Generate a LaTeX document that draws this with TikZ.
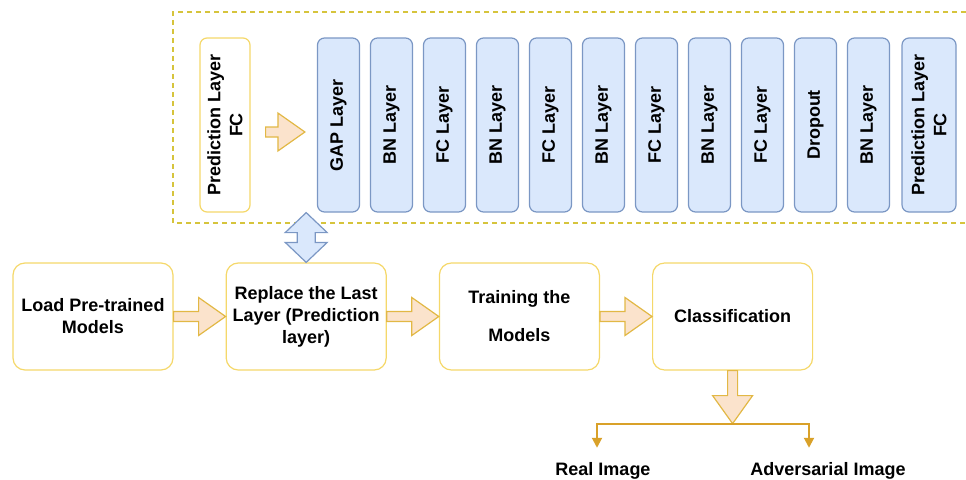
\documentclass[tikz,border=0pt]{standalone}
\usepackage{fontspec}
\setmainfont{Liberation Sans}
\usetikzlibrary{arrows.meta,calc,positioning}
\definecolor{boxyellow}{HTML}{F5D86A}
\definecolor{framecol}{HTML}{D6C43C}
\definecolor{layerline}{HTML}{7B97C4}
\definecolor{layerfill}{HTML}{DAE8FC}
\definecolor{arrowline}{HTML}{E2B845}
\definecolor{arrowfill}{HTML}{FBE3CC}
\definecolor{branchcol}{HTML}{D9A129}
\tikzset{
  txt/.style={font=\fontsize{18}{22}\selectfont\bfseries},
  stage/.style={txt,draw=boxyellow,line width=1.2pt,rounded corners=12pt,fill=white,
    minimum width=160pt,minimum height=107pt,align=center,inner sep=2pt},
  layer/.style={txt,draw=layerline,fill=layerfill,line width=1.2pt,rounded corners=7pt,
    rotate=90,minimum width=174pt,minimum height=42pt,align=center,inner sep=0pt},
  oldlayer/.style={layer,draw=boxyellow,fill=white,minimum height=50pt},
  blockarrow/.style={draw=arrowline,fill=arrowfill,line width=1.2pt},
  duoarrow/.style={draw=layerline,fill=layerfill,line width=1.2pt},
  frame/.style={draw=framecol,line width=1.2pt,dash pattern=on 5pt off 4pt},
  branch/.style={draw=branchcol,line width=2pt,-{Triangle[width=10pt,length=10pt]}},
  outlbl/.style={txt,inner sep=0pt}
}
% block arrow pointing right, #1 tail, #2 tip
\newcommand{\harrow}[2]{%
  \draw[blockarrow] let \p1=(#1), \p2=(#2) in
    (\x1,\y1+5pt) -- (\x2-27pt,\y1+5pt) -- (\x2-27pt,\y1+19pt) -- (\x2,\y1)
    -- (\x2-27pt,\y1-19pt) -- (\x2-27pt,\y1-5pt) -- (\x1,\y1-5pt) -- cycle;}
% block arrow pointing down
\newcommand{\varrow}[2]{%
  \draw[blockarrow] let \p1=(#1), \p2=(#2) in
    (\x1-5pt,\y1) -- (\x1-5pt,\y2+28pt) -- (\x1-20pt,\y2+28pt) -- (\x1,\y2)
    -- (\x1+20pt,\y2+28pt) -- (\x1+5pt,\y2+28pt) -- (\x1+5pt,\y1) -- cycle;}

\begin{document}
\begin{tikzpicture}[x=1pt,y=-1pt,node distance=52pt]
\useasboundingbox (0,0) rectangle (966,479);

% replaced part of the network
\draw[frame] (966,12) -| (173,223) -- (966,223);
\node[oldlayer] (oldpred) at (225,125) {Prediction Layer\\FC};
\foreach \lbl [count=\i from 0] in {GAP Layer,BN Layer,FC Layer,BN Layer,FC Layer,
    BN Layer,FC Layer,BN Layer,FC Layer,Dropout,BN Layer}
  \node[layer] (l\i) at ({338.5+53*\i},125) {\lbl};
\node[layer,minimum height=54pt] (lpred) at (929,125) {Prediction Layer\\FC};
\harrow{[xshift=15pt,yshift=-7pt]oldpred.south}{[xshift=-12pt,yshift=-7pt]l0.north}

% pipeline
\node[stage] (load) at (93,316.5) {Load Pre-trained\\Models};
\node[stage,right=of load] (replace) {Replace the Last\\Layer (Prediction\\layer)};
\node[stage,right=of replace] (training) {Training the\\[16pt]Models};
\node[stage,right=of training] (classif) {Classification};
\harrow{load.east}{replace.west}
\harrow{replace.east}{training.west}
\harrow{training.east}{classif.west}

\draw[duoarrow] let \p1=(replace.north), \p2=(replace.north |- l0.west) in
  (\x1,\y1) -- (\x1-21pt,\y1+20pt) -- (\x1-9pt,\y1+20pt) -- (\x1-9pt,\y2-20pt)
  -- (\x1-21pt,\y2-20pt) -- (\x1,\y2) -- (\x1+21pt,\y2-20pt) -- (\x1+9pt,\y2-20pt)
  -- (\x1+9pt,\y1+20pt) -- (\x1+21pt,\y1+20pt) -- cycle;

% outputs
\coordinate[below=53pt of classif.south] (split);
\varrow{classif.south}{split}
\node[outlbl,anchor=base] (real) at (603,475) {Real Image};
\node[outlbl,anchor=base] (adv) at (828,475) {Adversarial Image};
\draw[branch] (split) -| ([xshift=-6pt,yshift=14pt]real.north);
\draw[branch] (split) -| ([xshift=-19pt,yshift=14pt]adv.north);
\end{tikzpicture}
\end{document}
